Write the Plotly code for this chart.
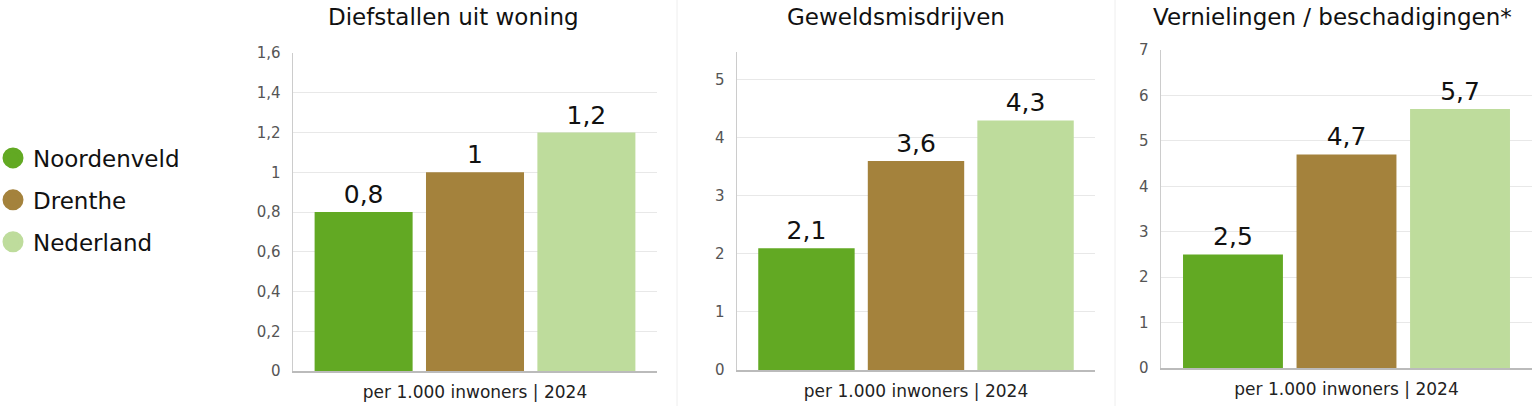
import plotly.graph_objects as go

W, H = 1534, 406
OFF = 0  # body margin removed via post_script

categories = ["per 1.000 inwoners | 2024"]
series = ["Noordenveld", "Drenthe", "Nederland"]
colors = ["#62a923", "#a4823c", "#bedc9c"]
titles = ["Diefstallen uit woning", "Geweldsmisdrijven", "Vernielingen / beschadigingen*"]

diefstallen = [0.8, 1.0, 1.2]
geweld = [2.1, 3.6, 4.3]
vernielingen = [2.5, 4.7, 5.7]
panel_values = [diefstallen, geweld, vernielingen]

y_ranges = [[0, 1.6], [0, 5.48], [0, 7]]
y_dticks = [0.2, 1, 1]

FONT = "DejaVu Sans"

def fmt(v):
    s = f"{v:g}"
    return s.replace(".", ",")

def fx(px):
    return (px - OFF) / W

def fy(px):
    return 1 - (px - OFF) / H

# pixel layout of panels (screen pixels)
x_px = [(293, 657), (737, 1095), (1161, 1532)]
y_px = [(53, 371), (52, 370), (50, 368)]
title_x_px = [453, 896, 1332]
sep_x_px = [677, 1115]

fig = go.Figure()

for p, vals in enumerate(panel_values):
    ax = "" if p == 0 else str(p + 1)
    for i, name in enumerate(series):
        fig.add_trace(go.Bar(
            x=categories, y=[vals[i]], name=name,
            marker=dict(color=colors[i], line=dict(width=0)),
            text=[fmt(vals[i])], textposition="outside",
            textfont=dict(family=FONT, size=25, color="#111111"),
            cliponaxis=False,
            showlegend=False, hoverinfo="skip",
            xaxis="x" + ax, yaxis="y" + ax,
        ))

# legend entries with circle symbols
for i, name in enumerate(series):
    fig.add_trace(go.Scatter(
        x=[None], y=[None], mode="markers", name=name,
        marker=dict(color=colors[i], size=22, symbol="circle",
                    line=dict(color=colors[i], width=5)),
        legendgroup=name, showlegend=True, xaxis="x", yaxis="y",
    ))

layout = dict(
    width=W, height=H,
    margin=dict(l=0, r=0, t=0, b=0, autoexpand=False),
    paper_bgcolor="white", plot_bgcolor="white",
    barmode="group", bargap=0.082, bargroupgap=0.12,
    separators=",.",
    font=dict(family=FONT, color="#222222"),
    legend=dict(
        x=fx(-7), y=fy(200), xanchor="left", yanchor="middle",
        font=dict(family=FONT, size=23, color="#111111"),
        tracegroupgap=9, traceorder="grouped", itemsizing="trace",
        bgcolor="rgba(0,0,0,0)",
    ),
    annotations=[], shapes=[],
)

for p in range(3):
    ax = "" if p == 0 else str(p + 1)
    x0, x1 = x_px[p]
    yt, yb = y_px[p]
    layout["xaxis" + ax] = dict(
        domain=[fx(x0), fx(x1)], anchor="y" + ax,
        showline=True, linecolor="#bbbbbb", linewidth=1.5,
        showgrid=False, ticks="", fixedrange=True,
        tickfont=dict(family=FONT, size=17, color="#222222"),
        ticklabelstandoff=5,
    )
    layout["yaxis" + ax] = dict(
        domain=[fy(yb), fy(yt)], anchor="x" + ax,
        range=y_ranges[p], dtick=y_dticks[p], tick0=0,
        showline=True, linecolor="#cccccc", linewidth=1.5,
        showgrid=True, gridcolor="#e8e8e8", gridwidth=1,
        zeroline=False, ticks="", fixedrange=True,
        tickfont=dict(family=FONT, size=15, color="#555555"),
        ticklabelstandoff=8,
    )
    layout["annotations"].append(dict(
        text=titles[p], x=fx(title_x_px[p]), y=fy(17),
        xref="paper", yref="paper", xanchor="center", yanchor="middle",
        showarrow=False, font=dict(family=FONT, size=23, color="#111111"),
    ))

for sx in sep_x_px:
    layout["shapes"].append(dict(
        type="line", xref="paper", yref="paper",
        x0=fx(sx), x1=fx(sx), y0=0, y1=1,
        line=dict(color="#eeeeee", width=1),
    ))

fig.update_layout(**layout)
fig.write_html("out.html",
               config={"displayModeBar": False, "staticPlot": True},
               post_script="document.body.style.margin='0';document.body.style.overflow='hidden';")
